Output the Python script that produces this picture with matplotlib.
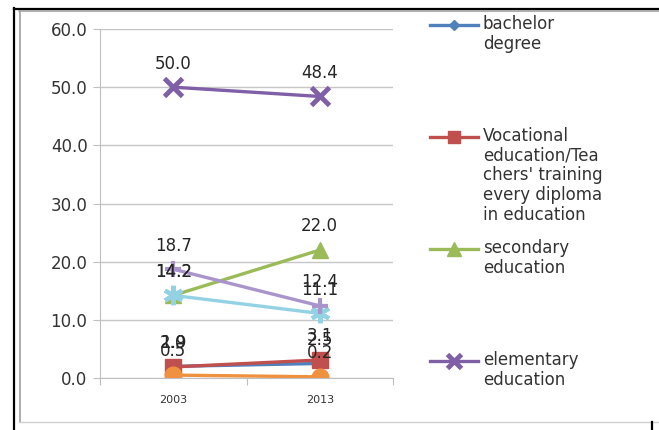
import matplotlib
matplotlib.use("Agg")
import matplotlib.pyplot as plt
from matplotlib.lines import Line2D

# data
years = ["2003", "2013"]
bachelor = [2.0, 2.5]
vocational = [1.9, 3.1]
secondary = [14.2, 22.0]
elementary = [50.0, 48.4]
series5 = [14.2, 11.1]
series6 = [18.7, 12.4]
series7 = [0.5, 0.2]

legend_labels = ["bachelor\ndegree",
                 "Vocational\neducation/Tea\nchers' training\nevery diploma\nin education",
                 "secondary\neducation",
                 "elementary\neducation"]

plt.rcParams['font.family'] = ['DejaVu Sans']

W, H = 659, 430
fig = plt.figure(figsize=(W / 100, H / 100), dpi=100)
fig.patch.set_facecolor("white")

# plot area in pixels
x0, x1, ytop, ybot = 100, 393, 29, 378
ax = fig.add_axes([x0 / W, (H - ybot) / H, (x1 - x0) / W, (ybot - ytop) / H])

xs = [0.5, 1.5]
styles = [
    (bachelor, "#4F81BD", dict(marker="D", ms=7)),
    (vocational, "#C0504D", dict(marker="s", ms=11)),
    (secondary, "#9BBB59", dict(marker="^", ms=12)),
    (elementary, "#7F5FA6", dict(marker="x", ms=13, mew=3.5)),
    (series5, "#93D2E4", dict(marker=(6, 2, 0), ms=14, mew=3)),
    (series6, "#A995CC", dict(marker="+", ms=12, mew=3)),
    (series7, "#F0913F", dict(marker="o", ms=12)),
]

handles = []
for vals, col, kw in styles:
    ln, = ax.plot(xs, vals, color=col, lw=2.4, mec=col, mfc=col, **kw)
    handles.append(ln)
    for x, v in zip(xs, vals):
        ax.annotate("%.1f" % v, (x, v), xytext=(0, 17), textcoords="offset points",
                    ha="center", va="center", fontsize=12, color="#262626")

ax.set_xlim(0, 2)
ax.set_ylim(0, 60)
ax.set_yticks(range(0, 61, 10))
ax.set_yticklabels(["%.1f" % t for t in range(0, 61, 10)], fontsize=12, color="#333333")
ax.set_xticks([0, 1, 2])
ax.set_xticklabels([])
ax.set_xticks(xs, minor=True)
ax.set_xticklabels(years, minor=True, fontsize=8, color="#333333")
ax.tick_params(axis="x", which="minor", length=0, pad=12)
ax.tick_params(axis="x", which="major", length=5, color="#BFBFBF")
ax.tick_params(axis="y", length=5, color="#BFBFBF", pad=4)
ax.grid(axis="y", color="#C6C6C6", lw=1)
ax.set_axisbelow(True)
for s in ["top", "right"]:
    ax.spines[s].set_visible(False)
for s in ["left", "bottom"]:
    ax.spines[s].set_color("#BFBFBF")

# overlay in pixel coordinates for frame and legend
lax = fig.add_axes([0, 0, 1, 1], zorder=-1)
lax.set_xlim(0, W)
lax.set_ylim(H, 0)
lax.axis("off")
lax.patch.set_alpha(0)

# frame lines
lax.add_line(Line2D([14, W], [8.5, 8.5], color="black", lw=1.6))
lax.add_line(Line2D([14, 14], [8, H], color="black", lw=1.6))
lax.add_line(Line2D([19, W], [11, 11], color="#A0A0A0", lw=1.2))
lax.add_line(Line2D([19.5, 19.5], [11, 422], color="#A0A0A0", lw=1.2))
lax.add_line(Line2D([19, W], [422, 422], color="#D0D0D0", lw=1))
lax.add_line(Line2D([652, 652], [422, H], color="black", lw=1.6))

# legend (only the first four series are listed in the original)
leg_y = [25, 137, 249, 361]
for h, lab, y in zip(handles[:4], legend_labels, leg_y):
    lax.plot([430, 454, 478], [y, y, y], color=h.get_color(), lw=2.4,
             marker=h.get_marker(), markevery=[1], ms=h.get_markersize() * 0.8,
             mew=h.get_markeredgewidth(), mec=h.get_color(), mfc=h.get_color())
    lax.text(483, y - 10, lab, ha="left", va="top", fontsize=12,
             color="#333333", linespacing=1.12)

fig.savefig("out.png", dpi=100, facecolor="white")
